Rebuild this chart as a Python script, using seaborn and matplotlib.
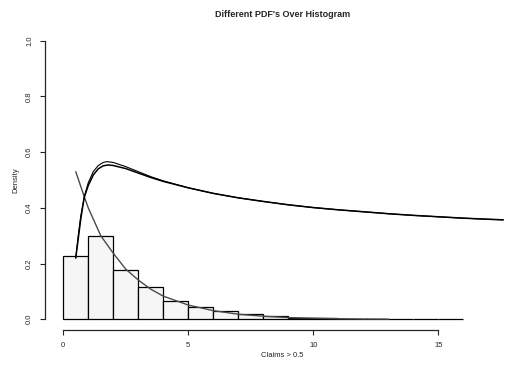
import matplotlib
matplotlib.use("Agg")
import matplotlib.pyplot as plt
import seaborn as sns
import numpy as np
import pandas as pd

# ---- data ----
bin_edges = [0, 1, 2, 3, 4, 5, 6, 7, 8, 9, 10, 11, 12, 13, 14, 15, 16]
bin_density = [0.228, 0.299, 0.178, 0.116, 0.067, 0.045, 0.030, 0.019,
               0.012, 0.006, 0.004, 0.002, 0.001, 0.0005, 0.0, 0.0]

curve_a_x = [0.5, 0.6, 0.7, 0.84, 1.0, 1.2, 1.4, 1.6, 1.75, 2.0, 2.5, 3.0, 3.5, 4.0,
             5, 6, 7, 8, 9, 10, 11, 12, 13, 14, 15, 16, 17, 17.6]
curve_a_y = [0.22, 0.30, 0.37, 0.44, 0.49, 0.53, 0.552, 0.563, 0.566, 0.563, 0.548,
             0.530, 0.512, 0.497, 0.472, 0.452, 0.436, 0.423, 0.411, 0.401, 0.393,
             0.386, 0.379, 0.373, 0.368, 0.363, 0.359, 0.357]

curve_b_x = [0.5, 0.6, 0.7, 0.84, 1.0, 1.2, 1.4, 1.6, 1.8, 2.0, 2.5, 3.0, 3.5, 4.0,
             5, 6, 7, 8, 9, 10, 11, 12, 13, 14, 15, 16, 17, 17.6]
curve_b_y = [0.22, 0.29, 0.36, 0.438, 0.48, 0.518, 0.540, 0.551, 0.554, 0.552, 0.541,
             0.525, 0.509, 0.495, 0.472, 0.452, 0.436, 0.423, 0.411, 0.401, 0.393,
             0.386, 0.379, 0.373, 0.368, 0.363, 0.359, 0.357]

curve_c_x = [0.5, 0.84, 1.0, 1.5, 2.0, 2.5, 3.0, 3.5, 4.0, 5, 6, 7, 8, 9, 10, 11, 12, 13]
curve_c_y = [0.53, 0.44, 0.40, 0.30, 0.237, 0.18, 0.141, 0.108, 0.083, 0.051, 0.031,
             0.018, 0.011, 0.006, 0.004, 0.002, 0.001, 0.0005]

x_ticks = [0, 5, 10, 15]
y_ticks = [0.0, 0.2, 0.4, 0.6, 0.8, 1.0]
y_tick_labels = ["0.0", "0.2", "0.4", "0.6", "0.8", "1.0"]

title = "Different PDF's Over Histogram"
x_label = "Claims > 0.5"
y_label = "Density"

# ---- style ----
sns.set_style("ticks")
plt.rcParams["font.family"] = ["Liberation Sans", "DejaVu Sans"]

fig = plt.figure(figsize=(5.2, 3.68), dpi=100)
ax = fig.add_axes([45 / 520, (368 - 330.4) / 368, 475 / 520, (330.4 - 29.6) / 368])

centers = [(bin_edges[i] + bin_edges[i + 1]) / 2 for i in range(len(bin_density))]
hist_df = pd.DataFrame({"x": centers, "w": bin_density})
sns.histplot(data=hist_df, x="x", weights="w", bins=bin_edges, stat="count",
             color="#f6f6f6", edgecolor="black", linewidth=0.9, alpha=1, ax=ax)

sns.lineplot(x=curve_c_x, y=curve_c_y, color="#4a4a4a", linewidth=1.0,
             estimator=None, sort=False, ax=ax)
sns.lineplot(x=curve_a_x, y=curve_a_y, color="black", linewidth=0.8,
             estimator=None, sort=False, ax=ax)
sns.lineplot(x=curve_b_x, y=curve_b_y, color="black", linewidth=1.1,
             estimator=None, sort=False, ax=ax)

ax.set_xlim(-0.73, 18.27)
ax.set_ylim(-0.04, 1.04)

for s in ["top", "right"]:
    ax.spines[s].set_visible(False)
ax.spines["left"].set_bounds(0, 1)
ax.spines["bottom"].set_bounds(0, 15)
ax.spines["left"].set_linewidth(0.9)
ax.spines["bottom"].set_linewidth(0.9)

ax.set_xticks(x_ticks)
ax.set_xticklabels([str(t) for t in x_ticks])
ax.set_yticks(y_ticks)
ax.set_yticklabels(y_tick_labels, rotation=90, va="center")
ax.tick_params(axis="both", length=3.6, width=0.8, labelsize=5.5, pad=5)

ax.set_xlabel(x_label, fontsize=5.5, labelpad=2)
ax.set_ylabel(y_label, fontsize=5.5, labelpad=5)
ax.set_title(title, fontsize=6.5, fontweight="bold", pad=9)

fig.savefig("out.png", dpi=100)
